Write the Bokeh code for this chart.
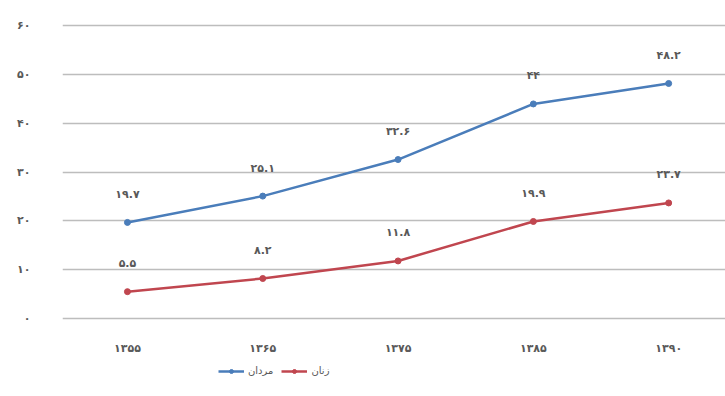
from bokeh.plotting import figure
from bokeh.models import ColumnDataSource, Legend, LegendItem, FixedTicker, Range1d
from bokeh.core.properties import value
from bokeh.embed import file_html
from bokeh.resources import INLINE

# Census years and two series (percent)
years = ["۱۳۵۵", "۱۳۶۵", "۱۳۷۵", "۱۳۸۵", "۱۳۹۰"]
men = [19.7, 25.1, 32.6, 44, 48.2]
women = [5.5, 8.2, 11.8, 19.9, 23.7]
y_ticks = [0, 10, 20, 30, 40, 50, 60]
series_names = ["مردان", "زنان"]

FA_DIGITS = str.maketrans("0123456789", "۰۱۲۳۴۵۶۷۸۹")


def fa(v):
    return f"{v:g}".translate(FA_DIGITS)


FONT = "DejaVu Sans"
BLUE = "#4a7dba"
RED = "#c0464f"
LABEL_COLOR = "#595959"

xs = list(range(len(years)))

src_men = ColumnDataSource(dict(x=xs, y=men, t=[fa(v) for v in men]))
src_women = ColumnDataSource(dict(x=xs, y=women, t=[fa(v) for v in women]))
src_years = ColumnDataSource(dict(x=xs, y=[0] * len(xs), t=years))

# The frame runs down to the bottom edge so the category labels and the
# legend can sit below the zero line inside it.
p = figure(
    width=725, height=396,
    x_range=Range1d(-0.48, 4.42), y_range=Range1d(-16, 60.5),
    x_axis_location=None,
    output_backend="svg", toolbar_location=None,
    min_border_left=62, min_border_right=0, min_border_top=23, min_border_bottom=0,
)
p.outline_line_color = None
p.background_fill_color = "white"
p.border_fill_color = "white"

# grid
p.xgrid.grid_line_color = None
p.ygrid.ticker = FixedTicker(ticks=y_ticks)
p.ygrid.grid_line_color = "#bdbdbd"
p.ygrid.grid_line_width = 1.3

# y axis
ax = p.yaxis[0]
ax.axis_line_color = None
ax.major_tick_line_color = None
ax.minor_tick_line_color = None
ax.major_label_text_font = FONT
ax.major_label_text_font_size = "11px"
ax.major_label_text_color = LABEL_COLOR
ax.major_label_text_font_style = "bold"
ax.ticker = FixedTicker(ticks=y_ticks)
ax.major_label_overrides = {t: fa(t) for t in y_ticks}
ax.major_label_standoff = 26

# category labels under the zero line
p.text("x", "y", text="t", source=src_years, y_offset=30,
       text_align="center", text_baseline="middle",
       text_font=value(FONT), text_font_size="11px",
       text_font_style="bold", text_color=LABEL_COLOR)

# series
l1 = p.line("x", "y", source=src_men, line_color=BLUE, line_width=2.5)
s1 = p.scatter("x", "y", source=src_men, size=6, fill_color=BLUE, line_color=BLUE)
l2 = p.line("x", "y", source=src_women, line_color=RED, line_width=2.5)
s2 = p.scatter("x", "y", source=src_women, size=6, fill_color=RED, line_color=RED)

# value labels
for src in (src_men, src_women):
    p.text("x", "y", text="t", source=src, y_offset=-28,
           text_align="center", text_baseline="middle",
           text_font=value(FONT), text_font_size="11px",
           text_font_style="bold", text_color=LABEL_COLOR)

legend = Legend(
    items=[LegendItem(label=series_names[0], renderers=[l1, s1]),
           LegendItem(label=series_names[1], renderers=[l2, s2])],
    orientation="horizontal",
    location=(156, 20),
    label_text_font=FONT, label_text_font_size="10px", label_text_color=LABEL_COLOR,
    glyph_width=26, glyph_height=10, spacing=8, padding=2, margin=0,
    label_standoff=4, border_line_color=None, background_fill_alpha=0,
)
p.add_layout(legend)

open("out.html", "w").write(file_html(p, INLINE))
